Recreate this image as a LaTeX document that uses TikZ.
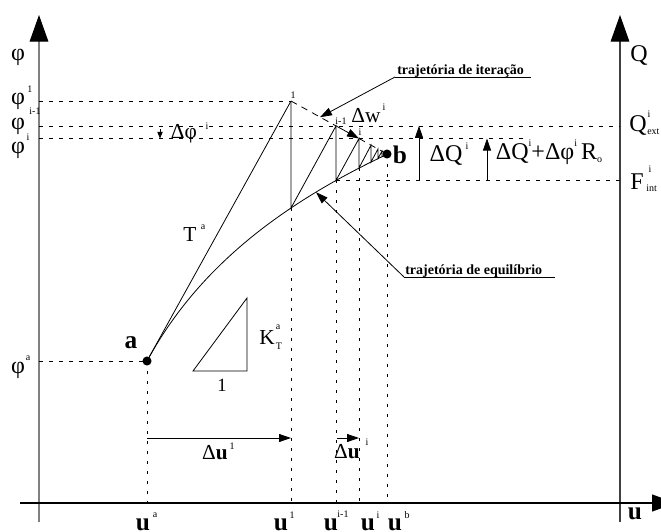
\documentclass[tikz,border=0pt]{standalone}
\usepackage{fontspec}
\setmainfont{Liberation Serif}
\usetikzlibrary{arrows.meta}
\newcommand\Sp[1]{\raisebox{0.55em}{\fontsize{7.5pt}{8pt}\selectfont #1}}
\newcommand\Sb[1]{\raisebox{-0.15em}{\fontsize{7.5pt}{8pt}\selectfont #1}}
\begin{document}
\begin{tikzpicture}[x=0.75pt,y=-0.75pt,
  thinl/.style={line width=0.6pt},
  hdash/.style={line width=0.6pt,dash pattern=on 3pt off 4.5pt},
  idash/.style={line width=0.6pt,dash pattern=on 5pt off 4pt},
  vdot/.style={line width=0.75pt,dash pattern=on 1.9pt off 5.6pt},
  bigtip/.style={-{Triangle[length=20pt,width=14pt,color=black]}},
  xtip/.style={-{Triangle[length=18pt,width=12.75pt]}},
  smalltip/.style={-{Triangle[length=9pt,width=6pt]}},
  big/.style={inner sep=0pt,font=\fontsize{18pt}{18pt}\selectfont},
  mid/.style={inner sep=0pt,font=\fontsize{16pt}{16pt}\selectfont},
  bbig/.style={inner sep=0pt,font=\bfseries\fontsize{19pt}{19pt}\selectfont},
  tiny/.style={inner sep=0pt,font=\fontsize{7.5pt}{8pt}\selectfont},
  trj/.style={inner sep=0pt,font=\bfseries\fontsize{10.5pt}{12pt}\selectfont}]
\useasboundingbox (0,0) rectangle (661,532);
\clip (0,0) rectangle (661,532);
% key coordinates
\coordinate (Lb) at (39,522); \coordinate (Lt) at (39,15);
\coordinate (Rb) at (620,522); \coordinate (Rt) at (620,15);
\coordinate (Xl) at (20,503); \coordinate (Xr) at (676,503);
\coordinate (A) at (147,361);
\coordinate (B) at (387,154);
\coordinate (P1) at (291,101);   \coordinate (C1) at (291,208);
\coordinate (Pim) at (336,125.9); \coordinate (Cim) at (336,180.4);
\coordinate (Pi) at (359,138.5); \coordinate (Ci) at (359,168);
\coordinate (Q1) at (371,145.2); \coordinate (D1) at (371,162);
\coordinate (Q2) at (378,149);   \coordinate (D2) at (378,158.5);
\coordinate (Q3) at (382,151.2); \coordinate (D3) at (382,156.6);
\coordinate (PiEnd) at (523,138.5);
% axes
\draw[gray,line width=0.9pt,bigtip] (Lb) -- (Lt);
\draw[black!75,line width=0.8pt,bigtip] (Rb) -- (Rt);
\draw[black,line width=0.8pt,xtip] (Xl) -- (Xr);
% horizontal dashed
\draw[hdash] (P1 -| Lb) -- (P1);
\draw[hdash] (Pim -| Lb) -- (Pim -| Rb);
\draw[hdash] (Pi -| Lb) -- (PiEnd);
\draw[hdash] (Cim) -- (Cim -| Rb);
\draw[hdash] (A -| Lb) -- (A);
% vertical dotted
\draw[vdot] (A) -- (A |- Xl);
\draw[vdot] (C1) -- (C1 |- Xl);
\draw[vdot] (Cim) -- (Cim |- Xl);
\draw[vdot] (Ci) -- (Ci |- Xl);
\draw[vdot] (B) -- (B |- Xl);
% tangent and equilibrium curve
\draw[thinl] (A) -- (P1);
\draw[thinl] plot[domain=147:387,samples=80] (\x,{361-152.5*ln(1+0.012*(\x-147))});
% iterations
\draw[thinl] (P1) -- (C1) -- (Pim) -- (Cim) -- (Pi) -- (Ci) -- (Q1) -- (D1) -- (Q2) -- (D2) -- (Q3) -- (D3) -- (B);
\draw[idash] (P1) -- (Pim);
\draw[thinl,smalltip] (Pim) -- (Pi);
\draw[idash] (Pi) -- (B);
% dots
\fill (A) circle (3.4pt);
\fill (B) circle (3.4pt);
% pointers
\coordinate (T1) at (395,77); \coordinate (T1e) at (531,77); \coordinate (I1) at (320,117.2);
\draw[thinl] (T1) -- (T1e);
\draw[thinl,smalltip] (T1) -- (I1);
\coordinate (T2) at (404,277); \coordinate (T2e) at (555,277); \coordinate (E1) at (316,192.2);
\draw[thinl] (T2) -- (T2e);
\draw[thinl,smalltip] (T2) -- (E1);
\node[trj,anchor=base west] (lit) at (397,74) {trajetória de iteração};
\node[trj,anchor=base west] (leq) at (405,274) {trajetória de equilíbrio};
% vertical arrows
\coordinate (DQb) at (419,180.4); \coordinate (DQt) at (419,125.9);
\coordinate (DRb) at (487,180.4); \coordinate (DRt) at (487,138.5);
\draw[thinl,smalltip] (DQb) -- (DQt);
\draw[thinl,smalltip] (DRb) -- (DRt);
\coordinate (Fa) at (160,129); \coordinate (Fb) at (160,138.5);
\draw[thinl,-{Triangle[length=5pt,width=4pt]}] (Fa) -- (Fb);
% horizontal arrows
\coordinate (U1a) at (147,438); \coordinate (U1b) at (291,438);
\coordinate (Uia) at (337,438); \coordinate (Uib) at (359,438);
\draw[thinl,smalltip] (U1a) -- (U1b);
\draw[thinl,smalltip] (Uia) -- (Uib);
% slope triangle
\draw[thinl] (193,371) -- (247,371) -- (247,298) -- cycle;
% left labels
\node[big] (phiax) at (18,57) {φ};
\node[big] (phi1) at (18,101) {φ}; \node[tiny] at (30,89) {1};
\node[big] (phi2) at (18,126) {φ}; \node[tiny] at (35,111) {i-1};
\node[big] (phi3) at (18,150) {φ}; \node[tiny] at (28,137) {i};
\node[big] (phia) at (18,370) {φ}; \node[tiny] at (28,358) {a};
% right labels
\node[big] (Qax) at (639,55) {Q};
\node[big] (Qex) at (638,125) {Q}; \node[tiny] at (649,114) {i}; \node[tiny,anchor=west] at (647,132) {ext};
\node[big] (Fin) at (637,182) {F}; \node[tiny] at (650,169) {i}; \node[tiny,anchor=west] at (646,188) {int};
% bottom labels
\node[bbig] (ua) at (143,525) {u}; \node[tiny] at (155,515) {a};
\node[bbig] (u1) at (281,525) {u}; \node[tiny] at (292,515) {1};
\node[bbig] (uim) at (331,525) {u}; \node[tiny] at (343,514) {i-1};
\node[bbig] (ui) at (368,525) {u}; \node[tiny] at (378,515) {i};
\node[bbig] (ub) at (395,525) {u}; \node[tiny] at (407,515) {b};
\node[bbig] (uax) at (635,514) {u};
% point labels
\node[bbig] (la) at (131,343) {a};
\node[bbig] (lb) at (400,155) {b};
\node[tiny] at (293,95) {1};
\node[tiny] at (341,121) {i-1};
\node[tiny] at (360,132) {i};
% other labels
\node[mid] (lT) at (190,235) {T}; \node[tiny] at (203,227) {a};
\node[mid] (lK) at (267,338) {K}; \node[tiny] at (278,327) {a}; \node[tiny] at (279,346) {T};
\node[inner sep=0pt,font=\fontsize{14pt}{14pt}\selectfont] (one) at (222,385) {1};
\node[mid] (du1) at (215,453) {Δ\textbf{u}}; \node[tiny] at (232,446) {1};
\node[mid] (dui) at (347,452) {Δ\textbf{u}}; \node[tiny] at (367,442) {i};
\node[mid] (dphi) at (184,134) {Δφ}; \node[tiny] at (207,126) {i};
\node[mid] (dw) at (366,116) {Δw}; \node[tiny] at (384,107) {i};
\node[big] (dQ) at (446,155) {ΔQ}; \node[tiny] at (467,146) {i};
\node[big] (dQR) at (549,152) {ΔQ\Sp{i}+Δφ\Sp{i}\,R\Sb{o}};
\end{tikzpicture}
\end{document}
